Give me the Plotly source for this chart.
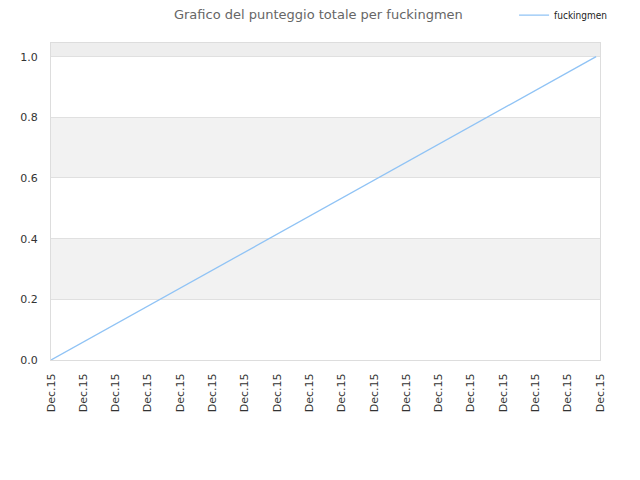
import plotly.graph_objects as go

# data
POS = [0, 16.88]           # position along the date axis (tick index units)
SCORE = [0.0, 1.0]         # punteggio totale
TICK_POS = list(range(18))
TICK_TEXT = ["Dec.15"] * 18
BANDS = [(0.2, 0.4, "#f2f2f2"), (0.6, 0.8, "#f2f2f2"), (1.0, 1.05, "#eeeeee")]

FONT = "DejaVu Sans"

fig = go.Figure()
fig.add_trace(go.Scatter(
    x=POS, y=SCORE, name="fuckingmen", mode="lines",
    line=dict(color="#90c3f5", width=1.3),
))

for y0, y1, col in BANDS:
    fig.add_hrect(y0=y0, y1=y1, fillcolor=col, line_width=0, layer="below")

# page sits 8px in from the window corner, margins account for that
fig.update_layout(
    width=640, height=480,
    margin=dict(l=43, r=48, t=32, b=128),
    paper_bgcolor="white", plot_bgcolor="white",
    font=dict(family=FONT, size=11, color="#333"),
    title=dict(text="Grafico del punteggio totale per fuckingmen",
               x=0.485, xanchor="center", y=0.997, yanchor="top",
               font=dict(size=13, color="#666")),
    showlegend=True,
    legend=dict(x=1.022, xanchor="right", y=0.985, yanchor="middle",
                yref="container", bgcolor="rgba(0,0,0,0)",
                font=dict(family="DejaVu Sans Condensed, DejaVu Sans", size=10, color="#222")),
    xaxis=dict(range=[0, 17], tickvals=TICK_POS, ticktext=TICK_TEXT, tickangle=-90,
               showgrid=False, zeroline=False, showline=True, linecolor="#dddddd",
               mirror=True, ticks="", ticklabelstandoff=8,
               tickfont=dict(size=11, color="#333")),
    yaxis=dict(range=[0, 1.046], tickvals=[0, 0.2, 0.4, 0.6, 0.8, 1.0],
               tickformat=".1f", showgrid=True, gridcolor="#e0e0e0", zeroline=False,
               showline=True, linecolor="#dddddd", mirror=True, ticks="",
               ticklabelstandoff=10, tickfont=dict(size=11, color="#333")),
)
fig.write_html("out.html")
